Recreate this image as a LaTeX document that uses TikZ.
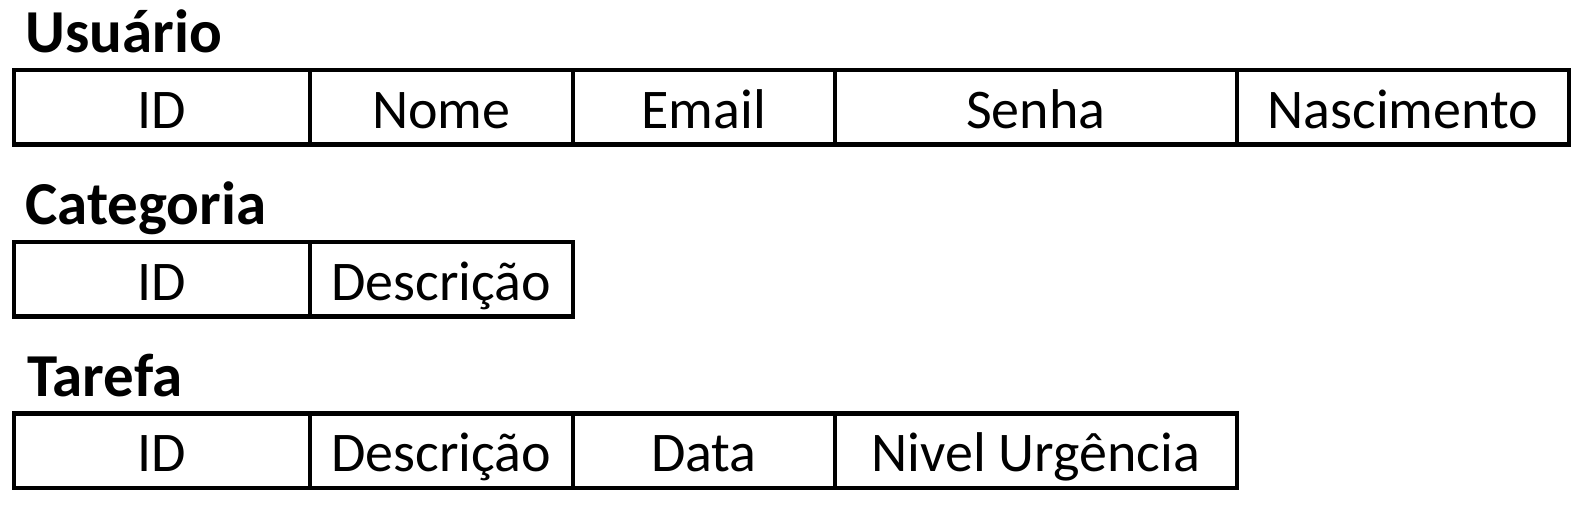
\documentclass[tikz,border=0pt]{standalone}
\usepackage{fontspec}
\setmainfont{Carlito}
\usetikzlibrary{positioning}

\begin{document}
\begin{tikzpicture}[x=1pt, y=1pt, node distance=0pt]
    % Define styles
    \tikzstyle{cell} = [rectangle, draw, line width=4.4pt, outer sep=0pt, inner sep=0pt,
        minimum height=74.5pt, text height=42pt, text depth=0pt,
        font=\fontsize{56}{60}\selectfont]
    \tikzstyle{title} = [anchor=base west, inner sep=0pt,
        font=\fontsize{61}{66}\selectfont\bfseries]
    \useasboundingbox (0,0) rectangle (1587,-517);

    % Usuario
    \node [title] (usuario) at (25.5,-52.6) {Usuário};
    \node [cell, minimum width=295.5pt, anchor=north west] (u-id) at (14.2,-69.8) {ID};
    \node [cell, minimum width=263.2pt, right=of u-id] (u-nome) {Nome};
    \node [cell, minimum width=262.1pt, right=of u-nome] (u-email) {Email};
    \node [cell, minimum width=401.8pt, right=of u-email] (u-senha) {Senha};
    \node [cell, minimum width=332pt, right=of u-senha] (u-nasc) {Nascimento};

    % Categoria
    \node [title] (categoria) at (25.5,-224.7) {Categoria};
    \node [cell, minimum width=295.5pt, anchor=north west] (c-id) at (14.2,-241.9) {ID};
    \node [cell, minimum width=263.2pt, right=of c-id] (c-desc) {Descrição};

    % Tarefa
    \node [title] (tarefa) at (27,-396.7) {Tarefa};
    \node [cell, minimum width=295.5pt, anchor=north west] (t-id) at (14.2,-413.5) {ID};
    \node [cell, minimum width=263.2pt, right=of t-id] (t-desc) {Descrição};
    \node [cell, minimum width=262.1pt, right=of t-desc] (t-data) {Data};
    \node [cell, minimum width=401.8pt, right=of t-data] (t-nivel) {Nivel Urgência};
\end{tikzpicture}
\end{document}
